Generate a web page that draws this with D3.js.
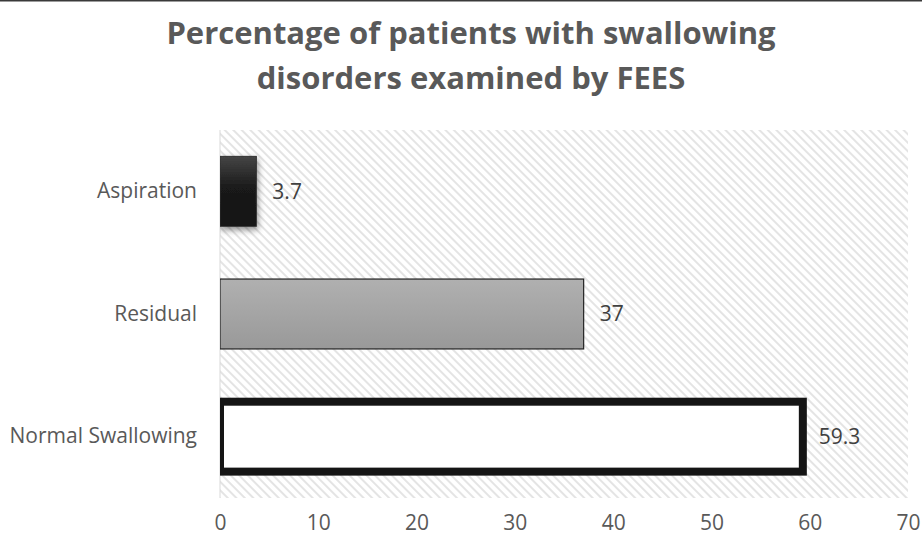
<!DOCTYPE html>
<html><head><meta charset="utf-8">
<script src="https://cdn.jsdelivr.net/npm/d3@7"></script>
<style>body{margin:0;background:#fff}svg{display:block}</style>
</head><body>
<svg id="c" width="922" height="538"></svg>
<script>
const categories = ["Aspiration", "Residual", "Normal Swallowing"];
const values = [3.7, 37, 59.3];
const tickValues = [0, 10, 20, 30, 40, 50, 60, 70];
const titleLines = ["Percentage of patients with swallowing", "disorders examined by FEES"];

const svg = d3.select("#c");
const W = 922, H = 538;
const m = {left: 220, right: 14, top: 130, bottom: 40};
const x = d3.scaleLinear().domain([0, 70]).range([m.left, W - m.right]);
const y = d3.scaleBand().domain(categories).range([m.top, H - m.bottom]).paddingInner(0.43).paddingOuter(0.215);

const defs = svg.append("defs");
const pat = defs.append("pattern").attr("id", "hatch").attr("patternUnits", "userSpaceOnUse")
  .attr("width", 6).attr("height", 6).attr("patternTransform", "rotate(-45)");
pat.append("rect").attr("width", 6).attr("height", 6).attr("fill", "#fff");
pat.append("rect").attr("x", 0).attr("width", 2).attr("height", 6).attr("fill", "#e4e4e4");

const g1 = defs.append("linearGradient").attr("id", "gDark").attr("x1", 0).attr("y1", 0).attr("x2", 0).attr("y2", 1);
g1.append("stop").attr("offset", "0%").attr("stop-color", "#454545");
g1.append("stop").attr("offset", "45%").attr("stop-color", "#1a1a1a");
g1.append("stop").attr("offset", "100%").attr("stop-color", "#141414");
const g2 = defs.append("linearGradient").attr("id", "gGray").attr("x1", 0).attr("y1", 0).attr("x2", 0).attr("y2", 1);
g2.append("stop").attr("offset", "0%").attr("stop-color", "#b0b0b0");
g2.append("stop").attr("offset", "100%").attr("stop-color", "#999999");
const sh = defs.append("filter").attr("id", "shadow").attr("x", "-50%").attr("y", "-50%").attr("width", "200%").attr("height", "200%");
sh.append("feDropShadow").attr("dx", 1).attr("dy", 3).attr("stdDeviation", 3).attr("flood-color", "#000").attr("flood-opacity", 0.45);
defs.append("clipPath").attr("id", "plotClip").append("rect")
  .attr("x", m.left).attr("y", 0).attr("width", W - m.left).attr("height", H);

// top border line
svg.append("line").attr("x1", 0).attr("x2", W).attr("y1", 0.5).attr("y2", 0.5).attr("stroke", "#3a3a3a").attr("stroke-width", 2);

// plot area
svg.append("rect").attr("x", m.left).attr("y", m.top).attr("width", W - m.right - m.left).attr("height", H - m.bottom - m.top)
  .attr("fill", "url(#hatch)");
svg.append("line").attr("x1", m.left).attr("x2", m.left).attr("y1", m.top).attr("y2", H - m.bottom)
  .attr("stroke", "#d9d9d9").attr("stroke-width", 1);

// title
svg.append("text").attr("x", 471).attr("y", 44).attr("text-anchor", "middle")
  .attr("font-family", "'Open Sans', sans-serif").attr("font-weight", "bold").attr("font-size", 31)
  .attr("fill", "#595959")
  .selectAll("tspan").data(titleLines).join("tspan")
  .attr("x", 471).attr("dy", (d, i) => i === 0 ? 0 : 45).text(d => d);

// bars
const fills = ["url(#gDark)", "url(#gGray)", "#ffffff"];
const strokes = ["#333", "#222", "#151515"];
const sw = [1, 1.2, 8];
svg.append("g").attr("clip-path", "url(#plotClip)")
  .selectAll(".bar").data(values).join("rect").attr("class", "bar")
  .attr("x", x(0))
  .attr("y", (d, i) => y(categories[i]))
  .attr("width", d => x(d) - x(0))
  .attr("height", y.bandwidth())
  .attr("fill", (d, i) => fills[i])
  .attr("stroke", (d, i) => strokes[i])
  .attr("stroke-width", (d, i) => sw[i])
  .attr("filter", (d, i) => i === 0 ? "url(#shadow)" : null);

// value labels
svg.selectAll(".val").data(values).join("text").attr("class", "val")
  .attr("x", (d, i) => x(d) + 16)
  .attr("y", (d, i) => y(categories[i]) + y.bandwidth() / 2)
  .attr("dy", "0.35em")
  .attr("font-family", "'Open Sans', sans-serif").attr("font-size", 21).attr("fill", "#404040")
  .text(d => d);

// y axis labels
const yAxis = d3.axisLeft(y).tickSize(0).tickPadding(23);
const ya = svg.append("g").attr("transform", `translate(${m.left},0)`).call(yAxis);
ya.select(".domain").remove();
ya.selectAll("text").attr("font-family", "'Open Sans', sans-serif").attr("font-size", 21).attr("fill", "#595959");

// x axis
const xAxis = d3.axisBottom(x).tickValues(tickValues).tickSize(0).tickPadding(17).tickFormat(d3.format("d"));
const xa = svg.append("g").attr("transform", `translate(0,${H - m.bottom})`).call(xAxis);
xa.select(".domain").remove();
xa.selectAll("text").attr("font-family", "'Open Sans', sans-serif").attr("font-size", 21).attr("fill", "#595959");
</script>
</body></html>
